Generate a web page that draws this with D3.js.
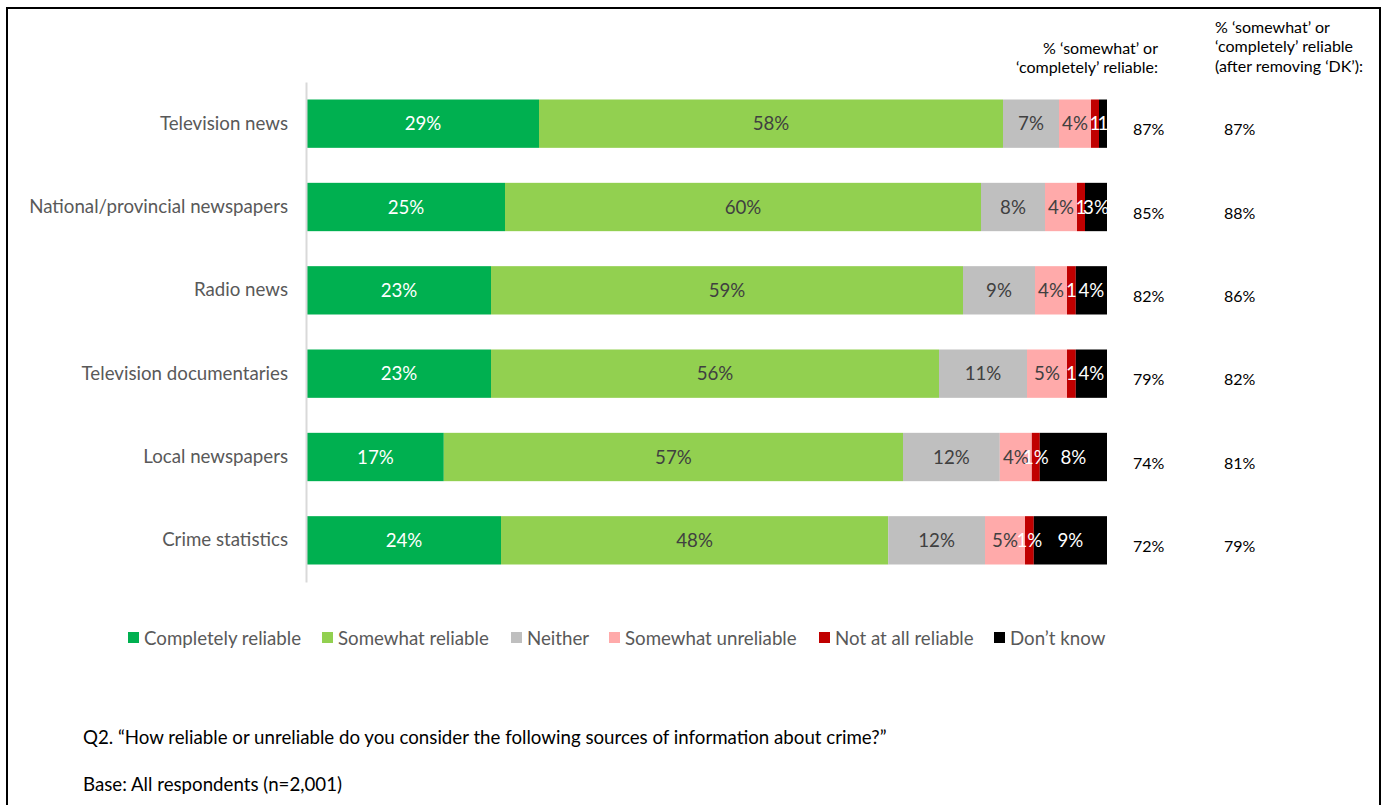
<!DOCTYPE html>
<html>
<head>
<meta charset="utf-8">
<script src="https://cdn.jsdelivr.net/npm/d3@7/dist/d3.min.js"></script>
<style>
  html, body { margin: 0; padding: 0; background: #fff; }
  svg { display: block; font-family: Lato, "Open Sans", sans-serif; }
</style>
</head>
<body>
<svg id="chart" width="1386" height="805"></svg>
<script>
// Sources of information about crime (top to bottom)
const categories = [
  "Television news",
  "National/provincial newspapers",
  "Radio news",
  "Television documentaries",
  "Local newspapers",
  "Crime statistics"
];

// Response options, in stacking order
const seriesNames = [
  "Completely reliable",
  "Somewhat reliable",
  "Neither",
  "Somewhat unreliable",
  "Not at all reliable",
  "Don\u2019t know"
];

// Share of respondents (%) per response option, one value per source
const completelyReliable = [29, 24.75, 23, 23, 17.1, 24.25];
const somewhatReliable   = [58, 59.5, 59, 56, 57.4, 48.4];
const neither            = [7, 8, 9, 11, 12.1, 12.1];
const somewhatUnreliable = [4, 4, 4, 5, 4, 5];
const notAtAllReliable   = [1, 1, 1.1, 1.1, 1, 1.1];
const dontKnow           = [1, 2.75, 3.9, 3.9, 8.4, 9.15];

// Labels on tiny segments that drop the "%" sign
const bareLabels = [[4, 5], [4], [4], [4], [], []];

// Summary columns to the right of the bars
const reliableShare = [87, 85, 82, 79, 74, 72];
const reliableExDK  = [87, 88, 86, 82, 81, 79];

const header1 = ["% \u2018somewhat\u2019 or", "\u2018completely\u2019 reliable:"];
const header2 = ["% \u2018somewhat\u2019 or", "\u2018completely\u2019 reliable", "(after removing \u2018DK\u2019):"];

const footQuestion = "Q2. \u201cHow reliable or unreliable do you consider the following sources of information about crime?\u201d";
const footBase = "Base: All respondents (n=2,001)";

const seriesValues = [completelyReliable, somewhatReliable, neither,
                      somewhatUnreliable, notAtAllReliable, dontKnow];
const colors = ["#00b050", "#92d050", "#bfbfbf", "#ffaaaa", "#c00000", "#000000"];
const labelColors = ["#ffffff", "#404040", "#404040", "#404040", "#ffffff", "#ffffff"];

const svg = d3.select("#chart");

// outer frame
svg.append("rect")
  .attr("x", 7).attr("y", 8)
  .attr("width", 1373).attr("height", 820)
  .attr("fill", "none").attr("stroke", "#000").attr("stroke-width", 2);

const x = d3.scaleLinear().domain([0, 100]).range([307, 1107]);
const y = d3.scaleBand().domain(categories).range([82, 582]).paddingInner(0.42).paddingOuter(0.21);

// rows for stacking
const rows = categories.map((c, i) => {
  const r = { category: c };
  seriesNames.forEach((s, k) => { r[s] = seriesValues[k][i]; });
  return r;
});
const stacked = d3.stack().keys(seriesNames)(rows);

const g = svg.append("g");

stacked.forEach((layer, k) => {
  g.append("g").selectAll("rect")
    .data(layer)
    .join("rect")
    .attr("x", d => x(d[0]))
    .attr("y", d => y(d.data.category))
    .attr("width", d => x(d[1]) - x(d[0]))
    .attr("height", y.bandwidth())
    .attr("fill", colors[k]);
});

// segment value labels
stacked.forEach((layer, k) => {
  g.append("g").selectAll("text")
    .data(layer)
    .join("text")
    .attr("x", d => (x(d[0]) + x(d[1])) / 2)
    .attr("y", d => y(d.data.category) + y.bandwidth() / 2)
    .attr("dy", "0.35em")
    .attr("text-anchor", "middle")
    .attr("font-size", 18.7)
    .attr("fill", labelColors[k])
    .text((d, i) => {
      const v = Math.round(d[1] - d[0]);
      return bareLabels[i].includes(k) ? String(v) : v + "%";
    });
});

// category axis
const yAxis = svg.append("g")
  .attr("transform", "translate(306,0)")
  .call(d3.axisLeft(y).tickSize(0).tickPadding(18));
yAxis.select(".domain").attr("stroke", "#d9d9d9").attr("stroke-width", 2);
yAxis.selectAll("text")
  .attr("font-size", 18.7)
  .attr("fill", "#595959")
  .attr("font-family", "Lato, sans-serif");

// summary columns
svg.append("g").selectAll("text")
  .data(reliableShare)
  .join("text")
  .attr("x", 1133)
  .attr("y", (d, i) => y(categories[i]) + y.bandwidth() / 2 + 6)
  .attr("dy", "0.35em")
  .attr("font-size", 16)
  .attr("fill", "#000")
  .text(d => d + "%");

svg.append("g").selectAll("text")
  .data(reliableExDK)
  .join("text")
  .attr("x", 1224)
  .attr("y", (d, i) => y(categories[i]) + y.bandwidth() / 2 + 6)
  .attr("dy", "0.35em")
  .attr("font-size", 16)
  .attr("fill", "#000")
  .text(d => d + "%");

// column headers
svg.append("g").selectAll("text")
  .data(header1)
  .join("text")
  .attr("x", 1158)
  .attr("y", (d, i) => 53.5 + i * 19.5)
  .attr("text-anchor", "end")
  .attr("font-size", 16)
  .attr("fill", "#000")
  .text(d => d);

svg.append("g").selectAll("text")
  .data(header2)
  .join("text")
  .attr("x", 1215)
  .attr("y", (d, i) => 32.5 + i * 19.5)
  .attr("font-size", 16)
  .attr("fill", "#000")
  .text(d => d);

// legend
const legendX = [128, 322, 511, 609, 819, 994];
const legend = svg.append("g");
seriesNames.forEach((s, k) => {
  legend.append("rect")
    .attr("x", legendX[k]).attr("y", 632)
    .attr("width", 11).attr("height", 11)
    .attr("fill", colors[k]);
  legend.append("text")
    .attr("x", legendX[k] + 16).attr("y", 638)
    .attr("dy", "0.35em")
    .attr("font-size", 18.7)
    .attr("fill", "#595959")
    .text(s);
});

// footnotes
svg.append("text")
  .attr("x", 83).attr("y", 744)
  .attr("font-size", 18.7)
  .attr("fill", "#000")
  .text(footQuestion);
svg.append("text")
  .attr("x", 83).attr("y", 791)
  .attr("font-size", 18.7)
  .attr("fill", "#000")
  .text(footBase);
</script>
</body>
</html>
